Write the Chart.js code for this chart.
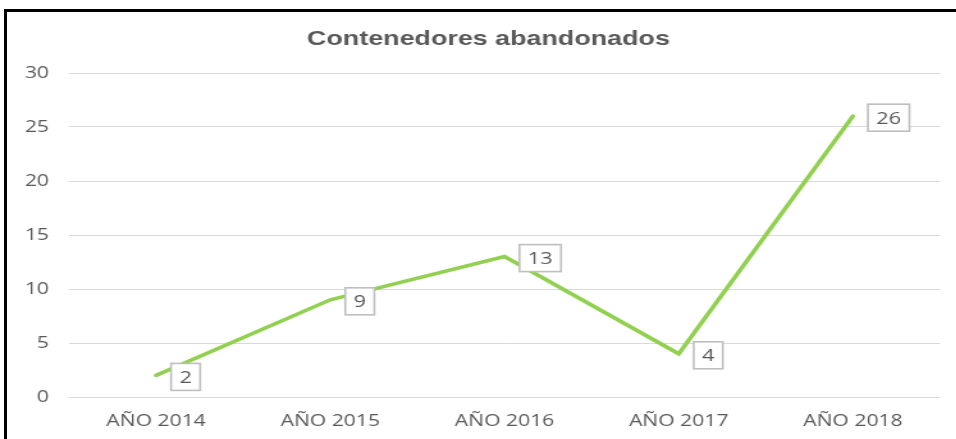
<!DOCTYPE html>
<html>
<head>
<meta charset="utf-8">
<script src="https://cdn.jsdelivr.net/npm/chart.js@4/dist/chart.umd.min.js"></script>
<style>
  html, body { margin: 0; padding: 0; background: #ffffff; overflow: hidden; width: 956px; height: 439px; }
  #frame { position: absolute; left: 4px; top: 9px; width: 970px; height: 450px;
           border-left: 3px solid #000; border-top: 3px solid #000; }
  #wrap { position: absolute; left: 0; top: 0; width: 747px; height: 439px;
          transform: scaleX(1.28); transform-origin: 0 0; }
  canvas { display: block; }
</style>
</head>
<body>
<div id="frame"></div>
<div id="wrap"><canvas id="c" width="747" height="439"></canvas></div>
<script>
const chartTitle = "Contenedores abandonados";
const categories = ["AÑO 2014", "AÑO 2015", "AÑO 2016", "AÑO 2017", "AÑO 2018"];
const values = [2, 9, 13, 4, 26];
const yMin = 0, yMax = 30, yStep = 5;

const titlePlugin = {
  id: 'customTitle',
  afterDraw(chart) {
    const ctx = chart.ctx;
    ctx.save();
    ctx.font = 'bold 21px "Liberation Sans", Arial, sans-serif';
    ctx.fillStyle = '#595959';
    ctx.textAlign = 'center';
    ctx.textBaseline = 'alphabetic';
    ctx.fillText(chartTitle, 381.6, 45);
    ctx.restore();
  }
};

const labelPlugin = {
  id: 'boxLabels',
  afterDatasetsDraw(chart) {
    const ctx = chart.ctx;
    const meta = chart.getDatasetMeta(0);
    ctx.save();
    ctx.font = '17px "Open Sans", sans-serif';
    meta.data.forEach((pt, i) => {
      const txt = String(values[i]);
      const w = ctx.measureText(txt).width;
      const bw = w + 13, bh = 27;
      const x0 = pt.x + 11.7;
      const cy = pt.y + 1.5;
      ctx.fillStyle = '#ffffff';
      ctx.fillRect(x0, cy - bh / 2, bw, bh);
      ctx.strokeStyle = '#bfbfbf';
      ctx.lineWidth = 1.6;
      ctx.strokeRect(x0, cy - bh / 2, bw, bh);
      ctx.fillStyle = '#595959';
      ctx.textAlign = 'center';
      ctx.textBaseline = 'middle';
      ctx.fillText(txt, x0 + bw / 2, cy + 1);
    });
    ctx.restore();
  }
};

new Chart(document.getElementById('c'), {
  type: 'line',
  data: {
    labels: categories,
    datasets: [{
      data: values,
      borderColor: '#92D050',
      backgroundColor: '#92D050',
      borderWidth: 3.6,
      borderCapStyle: 'round',
      borderJoinStyle: 'miter',
      pointRadius: 0,
      pointHoverRadius: 0,
      tension: 0,
      fill: false
    }]
  },
  options: {
    responsive: false,
    animation: false,
    devicePixelRatio: 1,
    layout: { padding: { left: 19.4, right: 12.6, top: 73, bottom: 0 } },
    plugins: {
      legend: { display: false },
      title: { display: false },
      tooltip: { enabled: false }
    },
    scales: {
      x: {
        offset: true,
        grid: { display: false, drawTicks: false },
        border: { display: false },
        afterFit(scale) { scale.height = 42; },
        ticks: {
          color: '#595959',
          font: { family: '"Open Sans", sans-serif', size: 16.5 },
          padding: 14,
          maxRotation: 0,
          autoSkip: false
        }
      },
      y: {
        min: yMin,
        max: yMax,
        grid: { color: '#d9d9d9', lineWidth: 1, drawTicks: false },
        border: { display: false },
        afterFit(scale) { scale.width = 34.5; },
        ticks: {
          stepSize: yStep,
          color: '#595959',
          font: { family: '"Open Sans", sans-serif', size: 16.5 },
          padding: 15.6
        }
      }
    }
  },
  plugins: [titlePlugin, labelPlugin]
});
</script>
</body>
</html>
